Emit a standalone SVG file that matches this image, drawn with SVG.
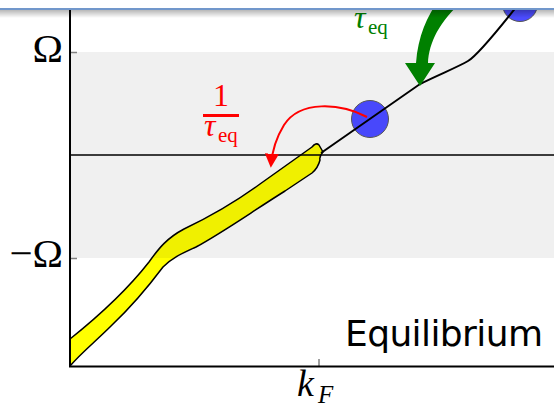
<svg xmlns="http://www.w3.org/2000/svg" width="554" height="409" viewBox="0 0 554 409">
<defs>
<style>
.math{font-family:"Liberation Serif","DejaVu Serif",serif;}
.it{font-style:italic;}
.ax{stroke:#000;stroke-width:2;fill:none;}
.tick{stroke:#808080;stroke-width:1.5;}
</style>
<linearGradient id="shade" x1="0" y1="0" x2="0" y2="1">
<stop offset="0" stop-color="#000" stop-opacity="0.28"/>
<stop offset="1" stop-color="#000" stop-opacity="0"/>
</linearGradient>
<marker id="redhead" viewBox="0 0 10 10" refX="8" refY="5" markerWidth="14" markerHeight="14" orient="auto" markerUnits="userSpaceOnUse">
<path d="M0,0 L10,5 L0,10 Z" fill="#ff0000"/>
</marker>
</defs>
<rect width="554" height="409" fill="#ffffff"/>
<g id="band">
<path d="M70,339 C95,319 124,294 149,262 C159,248 167,238 184,229 C205,219 230,206 260,184 L312,147 Q316,142 319,145 L323,152 Q319,156 320,160 Q318,168 312,173 L285,191 C250,213 225,231 196,247 C183,253 173,257 163,267 C151,283 129,309 111,326 C96,341 81,353 70,366 Z" fill="#ffff00" stroke="#000" stroke-width="1.5" stroke-linejoin="round"/>
</g>
<rect id="grayband" x="70" y="52" width="484" height="206" fill="#000" fill-opacity="0.06"/>
<g id="axes">
<line x1="70" y1="155" x2="554" y2="155" stroke="#000" stroke-width="1.5"/>
<line class="tick" x1="70" y1="52.5" x2="77" y2="52.5"/>
<line class="tick" x1="70" y1="258.5" x2="77" y2="258.5"/>
<line class="tick" x1="319" y1="359" x2="319" y2="366"/>
<path class="ax" d="M70,0 L70,366.5 L554,366.5"/>
<text class="math" x="63" y="62" font-size="41" text-anchor="end">Ω</text>
<text class="math" x="63" y="267" font-size="41" text-anchor="end">−Ω</text>
<text class="math it" x="297" y="396" font-size="38">k</text>
<text class="math it" x="318" y="403" font-size="25">F</text>
</g>
<g id="circle1"><circle cx="370" cy="119" r="18.5" fill="#0000ff" fill-opacity="0.7" stroke="#555" stroke-width="1"/></g>
<g id="circle2"><circle cx="520" cy="4" r="17.5" fill="#0000ff" fill-opacity="0.7" stroke="#555" stroke-width="1"/></g>
<g id="connectors">
<path d="M321,153 L420,84 C440,74 458,67 468,61 C478,55 500,28 528,-8" fill="none" stroke="#000" stroke-width="2"/>
<path d="M367,117 C340,103 300,100 284,125 C276,138 272,152 271,165" fill="none" stroke="#ff0000" stroke-width="2" marker-end="url(#redhead)"/>
<path d="M440,-2 C428,15 418,35 416,63 L405,63 L420,86 L435,63 L428,63 C429,42 440,20 466,-2 Z" fill="#008000"/>
</g>
<g id="label-red" fill="#ff0000">
<text class="math" x="221" y="106" font-size="32" text-anchor="middle">1</text>
<rect x="203" y="114" width="36" height="3"/>
<text class="math it" x="204" y="136" font-size="32">τ</text>
<text class="math" x="218" y="142" font-size="21">eq</text>
</g>
<g id="label-green" fill="#008000">
<text class="math it" x="354" y="28" font-size="32">τ</text>
<text class="math" x="368" y="34" font-size="21">eq</text>
</g>
<g id="label-eq">
<text x="345" y="346" font-family="DejaVu Sans, sans-serif" font-size="36" textLength="198" lengthAdjust="spacing">Equilibrium</text>
</g>
<g id="topbar">
<rect x="0" y="0" width="554" height="8" fill="#ffffff"/>
<rect x="0" y="8" width="554" height="2" fill="#7197cb"/>
<rect x="0" y="10" width="554" height="8" fill="url(#shade)"/>
</g>
</svg>
